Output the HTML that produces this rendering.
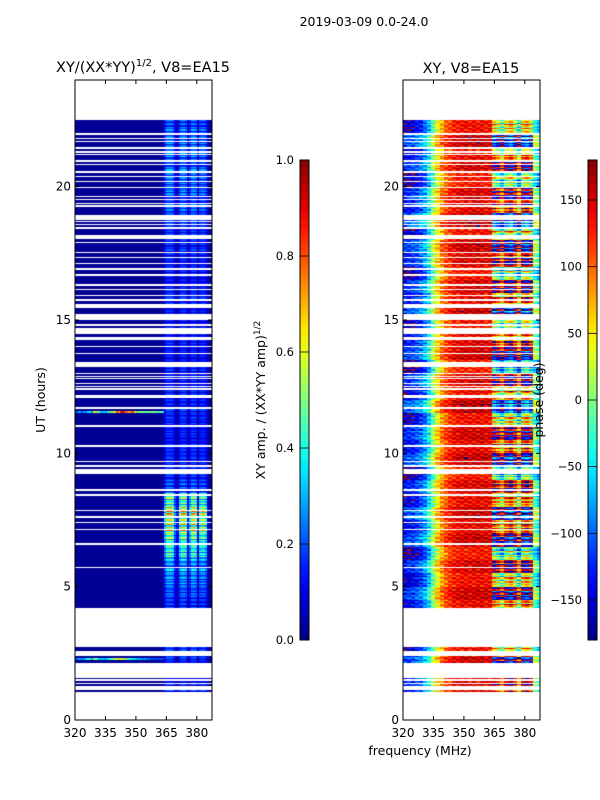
<!DOCTYPE html>
<html><head><meta charset="utf-8"><style>
body{margin:0;background:#fff;}
#wrap{position:relative;width:600px;height:800px;overflow:hidden;font-family:"DejaVu Sans","Liberation Sans",sans-serif;}
canvas{position:absolute;}
svg{position:absolute;left:0;top:0;}
</style></head><body>
<div id="wrap">
<canvas id="c1" width="137" height="640" style="left:75px;top:80px"></canvas>
<canvas id="c2" width="137" height="640" style="left:403px;top:80px"></canvas>
<svg id="s" width="600" height="800"></svg>
</div>
<script>
// ---- data ----
const gaps=[[22.5,24],[21.95,22.01],[21.78,21.82],[21.66,21.71],[21.40,21.48],[21.27,21.34],[21.19,21.21],[21.06,21.09],[20.92,21.0],[20.81,20.85],[20.50,20.59],[20.37,20.41],[20.17,20.22],[19.96,19.99],[19.60,19.65],[19.49,19.52],[19.35,19.40],[19.25,19.30],[18.75,18.92],[18.66,18.70],[18.56,18.60],[18.42,18.47],[18.05,18.17],[17.87,17.92],[17.50,17.55],[17.31,17.37],[17.09,17.15],[16.87,16.94],[16.66,16.72],[16.28,16.35],[16.12,16.17],[15.90,15.94],[15.72,15.77],[15.45,15.60],[15.00,15.22],[14.77,14.85],[14.55,14.70],[14.47,14.55],[14.25,14.36],[14.0,14.02],[13.72,13.77],[13.25,13.42],[12.97,13.02],[12.86,12.91],[12.78,12.82],[12.59,12.65],[12.47,12.52],[12.39,12.44],[12.07,12.19],[11.67,11.74],[11.0,11.06],[10.24,10.31],[9.67,9.72],[9.49,9.55],[9.22,9.40],[8.59,8.66],[8.41,8.46],[7.83,7.87],[7.57,7.66],[7.38,7.44],[7.12,7.16],[6.56,6.63],[5.70,5.74],[2.74,4.20],[2.40,2.59],[1.57,2.14],[1.47,1.53],[1.34,1.39],[1.12,1.27],[0,1.05]];
// strip weight per 1 MHz bin from 320 to 387
const stripWeight=[0,0,0,0,0,0,0,0,0,0, 0,0,0,0,0,0,0,0,0,0, 0,0,0,0,0,0,0,0,0,0, 0,0,0,0,0,0,0,0,0,0, 0,0,0,0.05,0.6,1,1,1,0.9,0.4, 0.2,0.8,1,1,0.9,0.2,0.6,1,1,0.9, 0.2,0.8,0.9,0.9,0.7,0.1,0.05,0.05];
// gain per 0.5 h bin (0..24h)
const timeGain=[0.15,0.15,0.16,0.16,0.16,0.16,0.16,0.16,0.18,0.2,0.25,0.3,0.4,0.45,0.6,0.65,0.45,0.22,0.17,0.15,0.14,0.14,0.15,0.16,0.15,0.15,0.14,0.14,0.15,0.14,0.14,0.15,0.15,0.14,0.15,0.16,0.16,0.17,0.2,0.24,0.22,0.24,0.24,0.24,0.22,0.2,0,0];
const rowTex=[1,0.6,1.3,0.8,1.15,0.55,1.25,0.9,0.7,1.1];
const specLineA=[0.2,0.25,0.3,0.2,0.3,0.25,0.35,0.4,0.3,0.6,0.65,0.5,0.4,0.3,0.35,0.3,0.45,0.5,0.55,0.6,0.8,0.7,0.85,0.9,0.8,0.75,0.7,0.75,0.8,0.6,0.45,0.5,0.55,0.5,0.5,0.45,0.5,0.5,0.5,0.5,0.45,0.45,0.45,0.4];
const specLineB=[0.2,0.25,0.3,0.25,0.3,0.35,0.45,0.4,0.3,0.5,0.55,0.4,0.3,0.35,0.3,0.3,0.4,0.45,0.5,0.55,0.6,0.5,0.6,0.65,0.5,0.45,0.45,0.4,0.4,0.35,0.3,0.3,0.3,0.25,0.3,0.25,0.25,0.2,0.2,0.2,0.2,0.2,0.2,0.2];
// phase: per 2 MHz bin 320..386
const freqPhase=[-140,-135,-130,-120,-105,-85,-50,0,50,85,105,120,130,135,138,140,138,140,142,140,138,138,130,100,60,120,150,100,40,130,150,110,-10,-40];
const phaseWeight=[0.25,0.25,0.25,0.25,0.25,0.25,0.25,0.25,0.2,0.2,0.12,0.12,0.12,0.12,0.12,0.12,0.12,0.12,0.12,0.12,0.12,0.12,1,1,1,1,1,1,1,1,1,1,0.4,0.4];
const rowPhase=[0,0,0,0,60,-60,0,30,-40,80,-90,40,-120,70,-30,100,-60,20,-140,90,-20,60,-100,140,-50,30,-160,80,0,-90,120,-40,60,-120,20,90,-70,150,-10,50,-130,70,-40,110,-80,30,0,0];
const rowJit=[0,40,-30,60,-50,15,80,-60,25,-15];
const colJit=[0,20,-20,12,-25,8,15];
const ampTicks=[0,0.2,0.4,0.6,0.8,1.0];
const phaseTicks=[-150,-100,-50,0,50,100,150];
const freqTicks=[320,335,350,365,380];
const hourTicks=[0,5,10,15,20];
// ---- scales ----
const F0=320,F1=387.5,H1=24;
const fx=f=>(f-F0)*137/(F1-F0);
const hy=h=>640-h*640/H1;
function jetArr(v){v=Math.max(0,Math.min(1,v));const c=x=>Math.round(255*Math.max(0,Math.min(1,1.5-Math.abs(x))));return [c(4*v-3),c(4*v-2),c(4*v-1)];}
function jet(v){const a=jetArr(v);return `rgb(${a[0]},${a[1]},${a[2]})`;}
const inGap=t=>gaps.some(g=>t>=g[0]&&t<g[1]);
const dt=0.05;
const ctx1=document.getElementById('c1').getContext('2d');
const ctx2=document.getElementById('c2').getContext('2d');
const im1=ctx1.createImageData(137,640),im2=ctx2.createImageData(137,640);
for(let py=0;py<640;py++){
  const t=(640-py-0.5)*H1/640;
  const off=(py*137)*4;
  if(inGap(t)){for(let px=0;px<137;px++){for(const im of [im1,im2]){im.data[off+px*4]=255;im.data[off+px*4+1]=255;im.data[off+px*4+2]=255;im.data[off+px*4+3]=255;}}continue;}
  const r=Math.floor(t/dt);
  const g=timeGain[Math.floor(t/0.5)];
  const rp=rowPhase[Math.floor(t/0.5)]+rowJit[r%rowJit.length];
  for(let px=0;px<137;px++){
    const f=F0+(px+0.5)*(F1-F0)/137;
    const i=Math.min(stripWeight.length-1,Math.floor(f-F0));
    let a=0.02+stripWeight[i]*g*rowTex[r%rowTex.length];
    if(Math.abs(t-11.55)<0.03&&i<specLineA.length)a=specLineA[i];
    if(Math.abs(t-2.28)<0.03&&i<specLineB.length)a=specLineB[i];
    const c=jetArr(a);
    im1.data[off+px*4]=c[0];im1.data[off+px*4+1]=c[1];im1.data[off+px*4+2]=c[2];im1.data[off+px*4+3]=255;
    const j=Math.min(freqPhase.length-1,Math.floor((f-F0)/2));
    let p=freqPhase[j]+rp*phaseWeight[j]+(j<22?colJit[(r*3+j)%colJit.length]:0);
    p=((p+180)%360+360)%360-180;
    const d=jetArr((p+180)/360);
    im2.data[off+px*4]=d[0];im2.data[off+px*4+1]=d[1];im2.data[off+px*4+2]=d[2];im2.data[off+px*4+3]=255;
  }
}
ctx1.putImageData(im1,0,0);ctx2.putImageData(im2,0,0);
// ---- axes ----
const S=document.getElementById('s');const NS='http://www.w3.org/2000/svg';
function el(tag,attrs,txt){const e=document.createElementNS(NS,tag);for(const k in attrs)e.setAttribute(k,attrs[k]);if(txt!=null)e.textContent=txt;S.appendChild(e);return e;}
function panel(ox,name){
  const fr=el('rect',{x:ox,y:80,width:137,height:640,fill:'none',stroke:'#000','stroke-width':1});
  
  freqTicks.forEach(f=>{const x=ox+fx(f);
    el('line',{x1:x,x2:x,y1:720,y2:716,stroke:'#000'});el('line',{x1:x,x2:x,y1:80,y2:84,stroke:'#000'});
    const t=el('text',{x:x,y:737,'font-size':12,'text-anchor':'middle'},f);
    });
  hourTicks.forEach(h=>{const y=80+hy(h);
    el('line',{x1:ox,x2:ox+4,y1:y,y2:y,stroke:'#000'});el('line',{x1:ox+137,x2:ox+133,y1:y,y2:y,stroke:'#000'});
    const t=el('text',{x:ox-4,y:y+4,'font-size':12,'text-anchor':'end'},h);
    });
}
panel(75,'amp');panel(403,'phase');
function cbar(x,name,ticks,ty,lab){
  const id='g'+name;const d=el('defs',{});const lg=document.createElementNS(NS,'linearGradient');
  lg.setAttribute('id',id);lg.setAttribute('x1',0);lg.setAttribute('x2',0);lg.setAttribute('y1',1);lg.setAttribute('y2',0);d.appendChild(lg);
  for(let k=0;k<=20;k++){const s=document.createElementNS(NS,'stop');s.setAttribute('offset',k/20);s.setAttribute('stop-color',jet(k/20));lg.appendChild(s);}
  const r=el('rect',{x:x,y:160,width:9,height:480,fill:`url(#${id})`,stroke:'#000'});
  
  ticks.forEach(v=>{const y=ty(v);el('line',{x1:x,x2:x+9,y1:y,y2:y,stroke:'#000','stroke-width':0.8});
    const t=el('text',{x:x-6,y:y+4,'font-size':11.5,'text-anchor':'end'},lab(v));
    });
}
cbar(300,'amp',ampTicks,v=>640-v*480,v=>v.toFixed(1));
cbar(588,'phase',phaseTicks,v=>400-v*480/360,v=>v<0?'\u2212'+(-v):''+v);
</script>
<svg width="600" height="800" style="position:absolute;left:0;top:0" font-family="DejaVu Sans, Liberation Sans, sans-serif">
<text x="364" y="26" font-size="12.5" text-anchor="middle">2019-03-09 0.0-24.0</text>
<text x="143" y="72" font-size="14.5" text-anchor="middle">XY/(XX*YY)<tspan dy="-6" font-size="10">1/2</tspan><tspan dy="6">, V8=EA15</tspan></text>
<text x="471" y="73" font-size="14.5" text-anchor="middle">XY, V8=EA15</text>
<text transform="translate(45,400) rotate(-90)" font-size="12.5" text-anchor="middle">UT (hours)</text>
<text x="420" y="755" font-size="12.5" text-anchor="middle">frequency (MHz)</text>
<text transform="translate(265,400) rotate(-90)" font-size="12.5" text-anchor="middle">XY amp. / (XX*YY amp)<tspan dy="-5" font-size="9">1/2</tspan></text>
<text transform="translate(543,400) rotate(-90)" font-size="12.5" text-anchor="middle">phase (deg)</text>
</svg>
</body></html>
